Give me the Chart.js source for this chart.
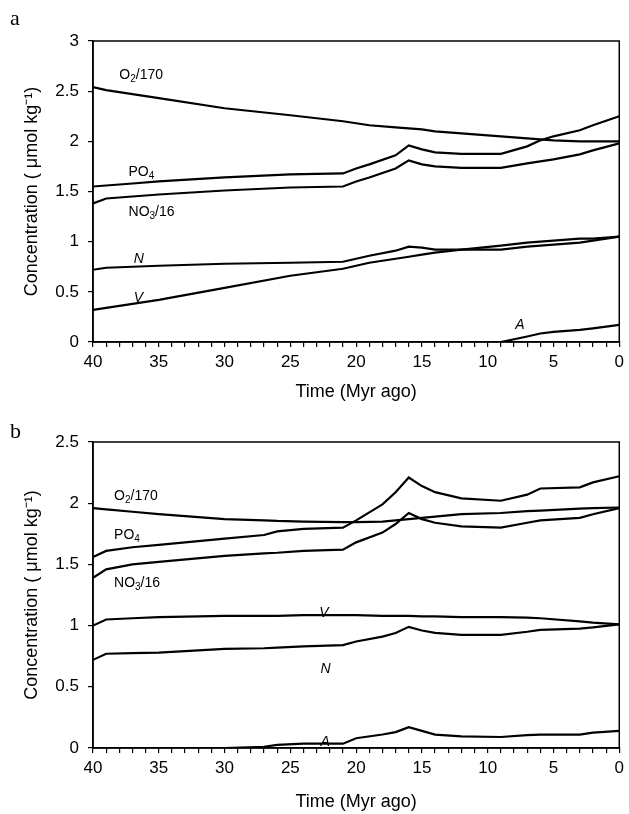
<!DOCTYPE html>
<html>
<head>
<meta charset="utf-8">
<script src="https://cdn.jsdelivr.net/npm/chart.js@4.4.1/dist/chart.umd.min.js"></script>
<style>
  body { margin: 0; background: #fff; }
  #wrap { position: relative; width: 629px; height: 814px; }
  canvas { position: absolute; left: 0; }
  .panel-tag { position: absolute; left: 10px; z-index: 2; font: 22px "Liberation Serif", "Times New Roman", serif; color: #000; }
</style>
</head>
<body>
<div id="wrap">
  <canvas id="chartA" width="629" height="410" style="top:0"></canvas>
  <canvas id="chartB" width="629" height="404" style="top:410px"></canvas>
  <div class="panel-tag" style="top:5px">a</div>
  <div class="panel-tag" style="top:418px">b</div>
</div>
<script>
// panel a (time in Myr ago)
const timeA = [40, 39, 37, 35, 30, 25, 21, 20, 19, 17, 16, 15, 14, 12, 9, 7, 6, 5, 3, 2, 0];
const o2A  = [2.54, 2.51, 2.47, 2.43, 2.33, 2.26, 2.20, 2.18, 2.16, 2.14, 2.13, 2.12, 2.10, 2.08, 2.05, 2.03, 2.02, 2.01, 2.00, 2.00, 2.00];
const po4A = [1.55, 1.56, 1.58, 1.60, 1.64, 1.67, 1.68, 1.73, 1.77, 1.86, 1.96, 1.92, 1.89, 1.875, 1.875, 1.95, 2.01, 2.05, 2.11, 2.16, 2.25];
const no3A = [1.38, 1.43, 1.45, 1.47, 1.51, 1.54, 1.55, 1.60, 1.64, 1.73, 1.81, 1.77, 1.75, 1.735, 1.735, 1.78, 1.80, 1.82, 1.87, 1.91, 1.98];
const nA   = [0.72, 0.74, 0.75, 0.76, 0.78, 0.79, 0.80, 0.83, 0.86, 0.91, 0.95, 0.94, 0.92, 0.92, 0.92, 0.95, 0.96, 0.97, 0.99, 1.01, 1.05];
const vA   = [0.32, 0.34, 0.38, 0.42, 0.54, 0.66, 0.73, 0.76, 0.79, 0.83, 0.85, 0.87, 0.89, 0.92, 0.96, 0.99, 1.00, 1.01, 1.03, 1.03, 1.05];
const aA   = [0, 0, 0, 0, 0, 0, 0, 0, 0, 0, 0, 0, 0, 0, 0, 0.055, 0.085, 0.10, 0.12, 0.135, 0.17];

// panel b
const timeB = [40, 39, 37, 35, 30, 27, 26, 24, 21, 20, 18, 17, 16, 15, 14, 12, 9, 7, 6, 3, 2, 0];
const o2B  = [1.96, 1.95, 1.93, 1.91, 1.87, 1.86, 1.855, 1.85, 1.845, 1.845, 1.85, 1.86, 1.87, 1.88, 1.89, 1.91, 1.92, 1.935, 1.94, 1.955, 1.96, 1.965];
const po4B = [1.56, 1.61, 1.64, 1.66, 1.71, 1.74, 1.77, 1.79, 1.80, 1.86, 1.99, 2.09, 2.21, 2.14, 2.09, 2.04, 2.02, 2.07, 2.12, 2.13, 2.17, 2.22];
const no3B = [1.39, 1.46, 1.50, 1.52, 1.57, 1.59, 1.595, 1.61, 1.62, 1.68, 1.76, 1.83, 1.92, 1.87, 1.84, 1.81, 1.80, 1.84, 1.86, 1.88, 1.91, 1.96];
const vB   = [1.00, 1.05, 1.06, 1.07, 1.08, 1.08, 1.08, 1.085, 1.085, 1.085, 1.08, 1.08, 1.08, 1.075, 1.075, 1.07, 1.07, 1.065, 1.06, 1.035, 1.025, 1.01];
const nB   = [0.72, 0.77, 0.775, 0.78, 0.81, 0.815, 0.82, 0.83, 0.84, 0.87, 0.91, 0.94, 0.99, 0.96, 0.94, 0.925, 0.925, 0.95, 0.965, 0.975, 0.985, 1.01];
const aB   = [0, 0, 0, 0, 0, 0.01, 0.025, 0.035, 0.035, 0.08, 0.11, 0.13, 0.17, 0.14, 0.11, 0.095, 0.09, 0.105, 0.11, 0.11, 0.125, 0.14];

const xTitle = 'Time (Myr ago)';
const yTitle = 'Concentration ( \u03bcmol kg\u207b\u00b9)';

// curve labels: text pieces [text, 'sub'|''], placed at (time, value)
const labelsA = [
  { parts: [['O'], ['2', 'sub'], ['/170']], t: 38.0, v: 2.66 },
  { parts: [['PO'], ['4', 'sub']], t: 37.3, v: 1.69 },
  { parts: [['NO'], ['3', 'sub'], ['/16']], t: 37.3, v: 1.29 },
  { parts: [['N']], t: 36.9, v: 0.83, italic: true },
  { parts: [['V']], t: 36.9, v: 0.44, italic: true },
  { parts: [['A']], t: 7.9, v: 0.17, italic: true }
];
const labelsB = [
  { parts: [['O'], ['2', 'sub'], ['/170']], t: 38.4, v: 2.06 },
  { parts: [['PO'], ['4', 'sub']], t: 38.4, v: 1.74 },
  { parts: [['NO'], ['3', 'sub'], ['/16']], t: 38.4, v: 1.35 },
  { parts: [['V']], t: 22.8, v: 1.10, italic: true },
  { parts: [['N']], t: 22.7, v: 0.645, italic: true },
  { parts: [['A']], t: 22.7, v: 0.05, italic: true }
];

Chart.defaults.font.family = '"Liberation Sans", Arial, sans-serif';
Chart.defaults.color = '#000';

const framePlugin = {
  id: 'frame',
  afterDraw(chart) {
    const { ctx, chartArea } = chart;
    ctx.save();
    ctx.strokeStyle = '#000';
    ctx.lineWidth = 1.5;
    ctx.strokeRect(chartArea.left, chartArea.top, chartArea.right - chartArea.left, chartArea.bottom - chartArea.top);
    ctx.restore();
  }
};

const curveLabelPlugin = {
  id: 'curveLabels',
  afterDatasetsDraw(chart, args, opts) {
    const { ctx, scales } = chart;
    ctx.save();
    ctx.fillStyle = '#000';
    ctx.textBaseline = 'middle';
    ctx.textAlign = 'left';
    opts.items.forEach(item => {
      let x = scales.x.getPixelForValue(item.t);
      const y = scales.y.getPixelForValue(item.v);
      item.parts.forEach(([text, kind]) => {
        const size = kind === 'sub' ? 10 : 14;
        ctx.font = (item.italic ? 'italic ' : '') + size + 'px "Liberation Sans", Arial, sans-serif';
        ctx.fillText(text, x, kind === 'sub' ? y + 4 : y);
        x += ctx.measureText(text).width;
      });
    });
    ctx.restore();
  }
};

function line(times, values) {
  return {
    data: times.map((t, i) => ({ x: t, y: values[i] })),
    borderColor: '#000',
    borderWidth: 2.2,
    pointRadius: 0,
    tension: 0,
    fill: false
  };
}

function makePanel(id, times, series, yMax, padTop, xAxisHeight, xTitlePad, labels) {
  new Chart(document.getElementById(id), {
    type: 'line',
    data: { datasets: series.map(s => line(times, s)) },
    options: {
      responsive: false,
      animation: false,
      layout: { padding: { top: padTop, right: 7, left: 0, bottom: 0 } },
      plugins: {
        legend: { display: false },
        tooltip: { enabled: false },
        curveLabels: { items: labels }
      },
      scales: {
        x: {
          type: 'linear',
          reverse: true,
          min: 0,
          max: 40,
          border: { color: '#000', width: 1.5 },
          grid: { drawOnChartArea: false, drawTicks: true, tickLength: 5, color: '#000', lineWidth: 1.2 },
          ticks: {
            stepSize: 1,
            autoSkip: false,
            maxRotation: 0,
            padding: 5,
            font: { size: 17 },
            callback: v => (v % 5 === 0 ? String(v) : '')
          },
          title: { display: true, text: xTitle, font: { size: 18 }, padding: { top: 0, bottom: xTitlePad } },
          afterFit: scale => { scale.height = xAxisHeight; }
        },
        y: {
          min: 0,
          max: yMax,
          border: { color: '#000', width: 1.5 },
          grid: { drawOnChartArea: false, drawTicks: true, tickLength: 5, color: '#000', lineWidth: 1.2 },
          ticks: {
            stepSize: 0.5,
            padding: 9,
            font: { size: 17 },
            callback: v => String(+v.toFixed(1))
          },
          title: { display: true, text: yTitle, font: { size: 18 }, padding: { top: 21, bottom: 0 } },
          afterFit: scale => { scale.width = 93; }
        }
      }
    },
    plugins: [framePlugin, curveLabelPlugin]
  });
}

makePanel('chartA', timeA, [o2A, po4A, no3A, nA, vA, aA], 3, 41, 68, 7, labelsA);
makePanel('chartB', timeB, [o2B, po4B, no3B, vB, nB, aB], 2.5, 32, 66, 1, labelsB);
</script>
</body>
</html>
